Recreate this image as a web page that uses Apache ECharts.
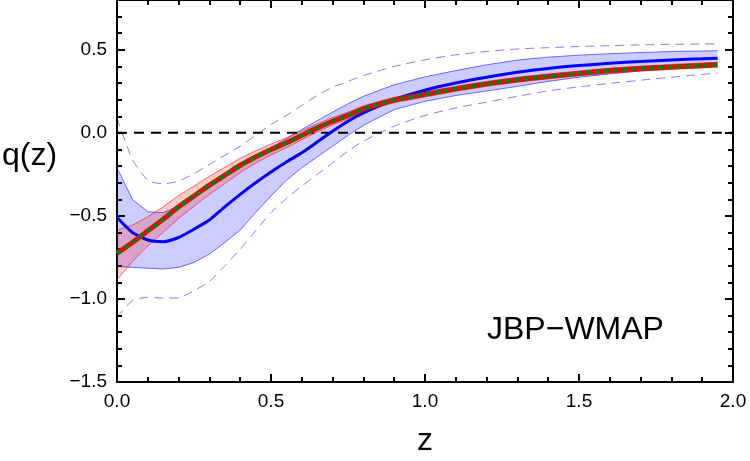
<!DOCTYPE html>
<html>
<head>
<meta charset="utf-8">
<title>q(z) JBP-WMAP</title>
<script src="https://cdn.jsdelivr.net/npm/echarts@6.0.0/dist/echarts.min.js"></script>
<style>
  html, body { margin: 0; padding: 0; background: #fff; }
  #chart { width: 750px; height: 461px; }
</style>
</head>
<body>
<div id="chart"></div>
<script>
// redshift samples
var zs = [0, 0.05, 0.1, 0.15, 0.2, 0.25, 0.3, 0.35, 0.4, 0.45, 0.5, 0.55, 0.6, 0.65, 0.7, 0.75, 0.8,
          0.9, 1.0, 1.1, 1.2, 1.3, 1.4, 1.5, 1.6, 1.7, 1.8, 1.9, 1.95];

// reconstructed q(z) (blue) with 1 sigma band and 2 sigma dashed limits
var blueMean = [-0.51, -0.60, -0.645, -0.655, -0.63, -0.58, -0.525, -0.445, -0.37, -0.30, -0.235, -0.175, -0.12,
                -0.055, 0.01, 0.07, 0.12, 0.20, 0.257, 0.30, 0.335, 0.365, 0.388, 0.405, 0.419, 0.43, 0.439, 0.446, 0.45];
var blueUp = [-0.21, -0.40, -0.475, -0.48, -0.44, -0.39, -0.33, -0.27, -0.21, -0.15, -0.09, -0.035, 0.02,
              0.073, 0.125, 0.175, 0.22, 0.29, 0.337, 0.375, 0.41, 0.438, 0.456, 0.468, 0.477, 0.484, 0.49, 0.493, 0.495];
var blueLow = [-0.805, -0.81, -0.815, -0.82, -0.81, -0.78, -0.73, -0.66, -0.585, -0.48, -0.38, -0.285, -0.21,
               -0.145, -0.08, -0.015, 0.045, 0.14, 0.19, 0.225, 0.252, 0.28, 0.31, 0.335, 0.355, 0.373, 0.386, 0.396, 0.40];
var blueUp2 = [0.09, -0.16, -0.285, -0.307, -0.29, -0.245, -0.19, -0.135, -0.08, -0.015, 0.05, 0.105, 0.165,
               0.225, 0.275, 0.31, 0.345, 0.40, 0.44, 0.47, 0.49, 0.505, 0.513, 0.52, 0.525, 0.53, 0.533, 0.535, 0.536];
var blueLow2 = [-1.11, -1.01, -0.99, -0.995, -0.993, -0.95, -0.895, -0.80, -0.70, -0.59, -0.48, -0.395, -0.32,
                -0.25, -0.18, -0.11, -0.05, 0.04, 0.105, 0.15, 0.185, 0.22, 0.253, 0.277, 0.298, 0.317, 0.335, 0.352, 0.36];

// JBP model fit (red) with its band
var redMean = [-0.725, -0.66, -0.59, -0.52, -0.445, -0.38, -0.315, -0.255, -0.195, -0.145, -0.10, -0.06, -0.015,
               0.03, 0.07, 0.105, 0.145, 0.198, 0.232, 0.265, 0.295, 0.32, 0.34, 0.358, 0.375, 0.387, 0.397, 0.406, 0.41];
var redUp = [-0.585, -0.555, -0.505, -0.445, -0.377, -0.32, -0.261, -0.207, -0.153, -0.108, -0.067, -0.03, 0.012,
             0.054, 0.092, 0.125, 0.163, 0.214, 0.248, 0.28, 0.31, 0.335, 0.355, 0.373, 0.39, 0.402, 0.412, 0.421, 0.425];
var redLow = [-0.885, -0.775, -0.68, -0.598, -0.515, -0.442, -0.37, -0.305, -0.238, -0.182, -0.133, -0.09, -0.042,
              0.006, 0.048, 0.085, 0.127, 0.182, 0.216, 0.25, 0.28, 0.305, 0.325, 0.343, 0.36, 0.372, 0.382, 0.391, 0.395];

var zeroZ = [0, 2];
var zeroQ = [0, 0];

var xTicks = { min: 0, max: 2, interval: 0.5 };
var yTicks = { min: -1.5, max: 0.8, interval: 0.5 };

var FONT = '"Liberation Sans", Arial, Helvetica, sans-serif';

function pairs (xs, ys) {
    return xs.map(function (x, i) { return [x, ys[i]]; });
}

function fmt (v) {
    return Number(v).toFixed(1).replace('-', '\u2212');
}

// frame axis: bottom/left carry labels, top/right only ticks
function makeAxis (range, position, withLabels) {
    return {
        type: 'value',
        min: range.min,
        max: range.max,
        interval: range.interval,
        position: position,
        axisLine: { show: true, onZero: false, lineStyle: { color: '#000', width: 2 } },
        axisTick: { show: true, inside: true, length: 8, lineStyle: { color: '#000', width: 2 } },
        minorTick: { show: true, splitNumber: 5, length: 5, lineStyle: { color: '#000', width: 2 } },
        splitLine: { show: false },
        axisLabel: {
            show: withLabels,
            color: '#000',
            fontFamily: FONT,
            fontSize: 19,
            margin: 10,
            showMaxLabel: position !== 'left',
            formatter: fmt
        }
    };
}

// filled band between two curves, with thin edge lines
function band (upper, lower, fill, edge) {
    return {
        type: 'custom',
        silent: true,
        data: [[0, 0]],
        renderItem: function (params, api) {
            var top = zs.map(function (z, i) { return api.coord([z, upper[i]]); });
            var bottom = zs.map(function (z, i) { return api.coord([z, lower[i]]); });
            return {
                type: 'group',
                children: [
                    { type: 'polygon', shape: { points: top.concat(bottom.slice().reverse()) }, style: { fill: fill } },
                    { type: 'polyline', shape: { points: top }, style: { fill: null, stroke: edge, lineWidth: 1 } },
                    { type: 'polyline', shape: { points: bottom }, style: { fill: null, stroke: edge, lineWidth: 1 } }
                ]
            };
        }
    };
}

function line (ys, color, width, dash) {
    return {
        type: 'line',
        data: pairs(zs, ys),
        showSymbol: false,
        smooth: 0.2,
        silent: true,
        lineStyle: { color: color, width: width, type: dash || 'solid' }
    };
}

var chart = echarts.init(document.getElementById('chart'));

var option = {
    animation: false,
    grid: { left: 117, right: 17, top: 0, bottom: 79, outerBoundsMode: 'none' },
    xAxis: [makeAxis(xTicks, 'bottom', true), makeAxis(xTicks, 'top', false)],
    yAxis: [makeAxis(yTicks, 'left', true), makeAxis(yTicks, 'right', false)],
    graphic: [
        { type: 'text', left: 2, top: 140, style: { text: 'q(z)', font: '32px ' + FONT, fill: '#000' } },
        { type: 'text', x: 425, y: 441, style: { text: 'z', font: '32px ' + FONT, fill: '#000', align: 'center', verticalAlign: 'middle' } },
        { type: 'text', x: 487, y: 330, style: { text: 'JBP\u2212WMAP', font: '32px ' + FONT, fill: '#000', align: 'left', verticalAlign: 'middle' } }
    ],
    series: [
        band(blueUp, blueLow, 'rgba(0,0,255,0.2)', 'rgba(0,0,255,0.55)'),
        line(blueUp2, 'rgba(0,0,255,0.5)', 1, [9, 6]),
        line(blueLow2, 'rgba(0,0,255,0.5)', 1, [9, 6]),
        band(redUp, redLow, 'rgba(255,0,0,0.2)', 'rgba(255,0,0,0.55)'),
        {
            type: 'line',
            data: pairs(zeroZ, zeroQ),
            showSymbol: false,
            silent: true,
            lineStyle: { color: '#000', width: 2, type: [10, 7] }
        },
        line(blueMean, '#0000ff', 3),
        line(redMean, '#ff0000', 5),
        line(redMean, '#0a7d0a', 4, [5, 4])
    ]
};

chart.setOption(option);
</script>
</body>
</html>
